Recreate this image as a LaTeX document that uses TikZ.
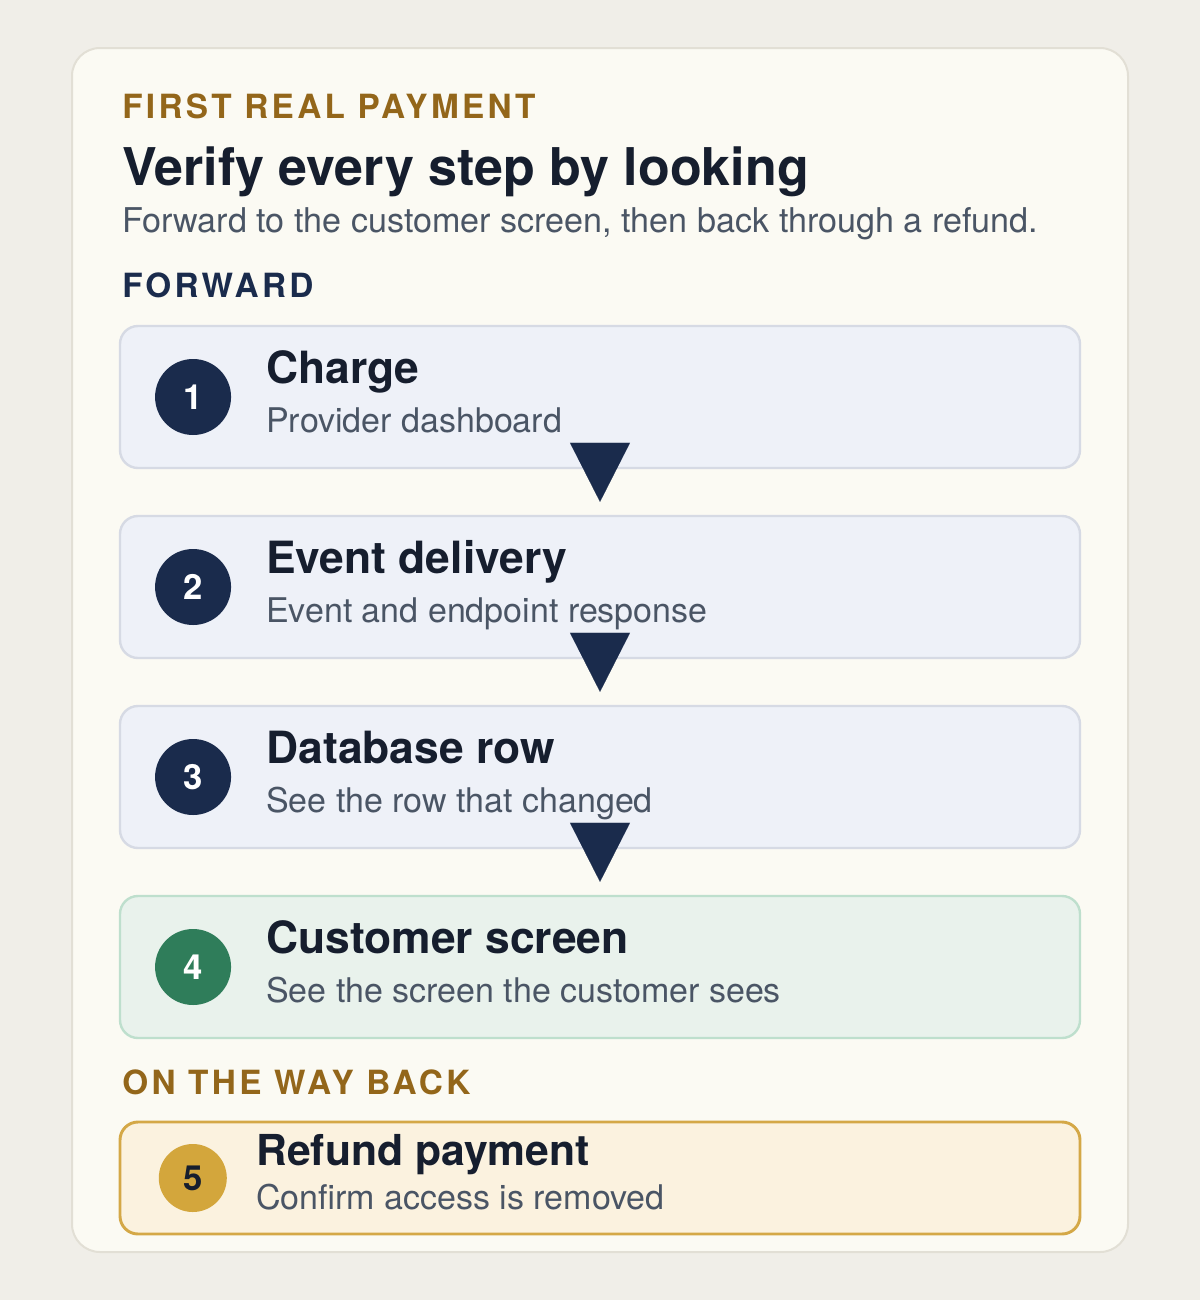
\documentclass[tikz,border=0pt]{standalone}
\usepackage{fontspec}
\setmainfont{TeX Gyre Heros}
\newfontfamily\trackfont[LetterSpace=10]{TeX Gyre Heros}
\usetikzlibrary{arrows.meta,positioning}
\definecolor{pagebg}{HTML}{F0EEE8}
\definecolor{panelfill}{HTML}{FBFAF3}
\definecolor{panelline}{HTML}{E2DFD5}
\definecolor{goldtext}{HTML}{93661A}
\definecolor{navy}{HTML}{1A2B4C}
\definecolor{ink}{HTML}{161E2E}
\definecolor{slate}{HTML}{4A5565}
\definecolor{bluefill}{HTML}{EEF1F8}
\definecolor{blueline}{HTML}{D6DAE4}
\definecolor{greenfill}{HTML}{E9F2EC}
\definecolor{greenline}{HTML}{BEDFCD}
\definecolor{greendot}{HTML}{2F7D5A}
\definecolor{goldfill}{HTML}{FBF2DF}
\definecolor{goldline}{HTML}{D4A847}
\definecolor{golddot}{HTML}{D3A63C}
\tikzset{>=Triangle}

\begin{document}
\begin{tikzpicture}[x=0.75pt,y=-0.75pt,
    card/.style={draw=blueline, fill=bluefill, line width=1.8pt, rounded corners=13.5pt,
        minimum width=720pt, minimum height=106.5pt, inner sep=0pt},
    badge/.style={circle, fill=navy, text=white, minimum size=57pt, inner sep=0pt,
        font=\fontsize{26pt}{31pt}\selectfont\bfseries},
    steptitle/.style={anchor=base west, inner sep=0pt, text=ink,
        font=\fontsize{33.3pt}{40pt}\selectfont\bfseries},
    stepnote/.style={anchor=base west, inner sep=0pt, text=slate,
        font=\fontsize{25.5pt}{30pt}\selectfont},
    sectionlabel/.style={anchor=base west, inner sep=0pt,
        font=\trackfont\fontsize{25pt}{30pt}\selectfont\bfseries},
    flowtip/.style={line width=0.1pt, navy, -{Triangle[width=45pt,length=44.25pt]}}]

    % Page and panel
    \useasboundingbox (0,0) rectangle (1200,1300);
    \fill[pagebg] (0,0) rectangle (1200,1300);
    \draw[fill=panelfill, draw=panelline, line width=1.5pt, rounded corners=21pt] (72,48) rectangle (1128,1252);

    % Heading
    \node[sectionlabel, text=goldtext] (kicker) at (122,118) {FIRST REAL PAYMENT};
    \node[anchor=base west, inner sep=0pt, text=ink, font=\fontsize{39pt}{46pt}\selectfont\bfseries] (title) at (122,185) {Verify every step by looking};
    \node[anchor=base west, inner sep=0pt, text=slate, font=\fontsize{25.6pt}{30pt}\selectfont] (subtitle) at (122,232) {Forward to the customer screen, then back through a refund.};
    \node[sectionlabel, text=navy] (fwd) at (122,297) {FORWARD};

    % Forward cards
    \node[card] (c1) at (600,397) {};
    \node[card] (c2) at (600,587) {};
    \node[card] (c3) at (600,777) {};
    \node[card, draw=greenline, fill=greenfill] (c4) at (600,967) {};

    % Number badges
    \node[badge, right=27pt of c1.west] (n1) {1};
    \node[badge, right=27pt of c2.west] (n2) {2};
    \node[badge, right=27pt of c3.west] (n3) {3};
    \node[badge, fill=greendot, right=27pt of c4.west] (n4) {4};

    % Card texts
    \node[steptitle] (t1) at (266,383) {Charge};
    \node[stepnote] (s1) at (266,432) {Provider dashboard};
    \node[steptitle] (t2) at (266,573) {Event delivery};
    \node[stepnote] (s2) at (266,622) {Event and endpoint response};
    \node[steptitle] (t3) at (266,763) {Database row};
    \node[stepnote] (s3) at (266,812) {See the row that changed};
    \node[steptitle] (t4) at (266,953) {Customer screen};
    \node[stepnote] (s4) at (266,1002) {See the screen the customer sees};

    % Arrows between cards
    \draw[flowtip] ([yshift=18pt]c1.south) -- ([yshift=9.75pt]c2.north);
    \draw[flowtip] ([yshift=18pt]c2.south) -- ([yshift=9.75pt]c3.north);
    \draw[flowtip] ([yshift=18pt]c3.south) -- ([yshift=9.75pt]c4.north);

    % Way back
    \node[sectionlabel, text=goldtext] (back) at (122,1094) {ON THE WAY BACK};
    \node[card, draw=goldline, fill=goldfill, line width=2.2pt, minimum height=84pt] (c5) at (600,1178) {};
    \node[badge, fill=golddot, text=ink, minimum size=51pt, right=30pt of c5.west] (n5) {5};
    \node[steptitle, font=\fontsize{32pt}{38pt}\selectfont\bfseries] (t5) at (256,1165) {Refund payment};
    \node[stepnote] (s5) at (256,1209) {Confirm access is removed};

\end{tikzpicture}
\end{document}
